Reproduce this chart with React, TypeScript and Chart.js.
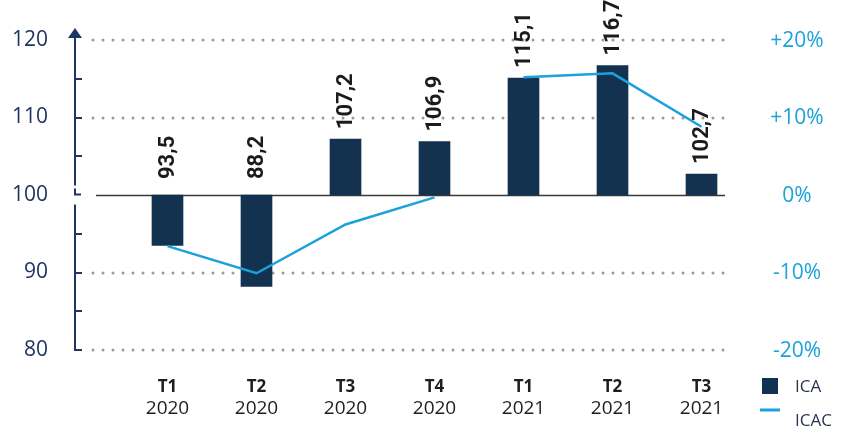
import React, { useEffect, useRef } from "react";
import { Chart, registerables } from "chart.js";

Chart.register(...registerables);

const quarters = ["T1", "T2", "T3", "T4", "T1", "T2", "T3"];
const years = ["2020", "2020", "2020", "2020", "2021", "2021", "2021"];
const icaValues = [93.5, 88.2, 107.2, 106.9, 115.1, 116.7, 102.7];
const icacValues = [-6.6, -10.1, -3.8, -0.3, 15.2, 15.7, 8.8];
const baseValue = 100;
const leftMin = 80;
const leftMax = 120;
const rightMin = -20;
const rightMax = 20;
const rightTickValues = [-20, -10, 0, 10, 20];
const seriesNames = ["ICA", "ICAC"];

const NAVY = "#12324f";
const AXIS = "#1f3563";
const BLUE = "#1ba1dc";
const FONT = "'Open Sans', sans-serif";

const fmt = (v: number) => v.toFixed(1).replace(".", ",");
const fmtPct = (v: number) => (v > 0 ? "+" : "") + v + "%";

const drawPlugin = {
  id: "custom",
  beforeDatasetsDraw(chart: any) {
    const ctx = chart.ctx;
    const y = chart.scales.y;
    const axX = 75;
    const gridL = 93;
    const gridR = 725;
    ctx.save();
    for (const t of y.ticks) {
      if (t.value === baseValue) continue;
      const py = Math.round(y.getPixelForValue(t.value));
      ctx.beginPath();
      ctx.setLineDash([0, 10]);
      ctx.lineCap = "round";
      ctx.lineWidth = 3;
      ctx.strokeStyle = "#9a9a9a";
      ctx.moveTo(gridL, py);
      ctx.lineTo(gridR, py);
      ctx.stroke();
    }
    ctx.setLineDash([]);
    ctx.lineCap = "butt";
    const by = Math.round(y.getPixelForValue(baseValue)) + 0.5;
    ctx.beginPath();
    ctx.strokeStyle = "#3a3a3a";
    ctx.lineWidth = 1.5;
    ctx.moveTo(96, by);
    ctx.lineTo(gridR, by);
    ctx.stroke();
    const top = y.getPixelForValue(leftMax);
    const bot = y.getPixelForValue(leftMin);
    ctx.strokeStyle = AXIS;
    ctx.lineWidth = 2;
    ctx.beginPath();
    ctx.moveTo(axX, top - 2);
    ctx.lineTo(axX, by - 10);
    ctx.moveTo(axX, by - 7);
    ctx.lineTo(axX, by - 1);
    ctx.lineTo(axX + 6, by - 1);
    ctx.moveTo(axX, by + 9);
    ctx.lineTo(axX, bot);
    ctx.lineTo(axX + 7, bot);
    ctx.stroke();
    for (let v = leftMin + 5; v < leftMax; v += 5) {
      if (v === baseValue) continue;
      const py = Math.round(y.getPixelForValue(v));
      ctx.beginPath();
      ctx.moveTo(axX, py);
      ctx.lineTo(axX + 7, py);
      ctx.stroke();
    }
    ctx.fillStyle = AXIS;
    ctx.beginPath();
    ctx.moveTo(axX, top - 12);
    ctx.lineTo(axX - 7, top - 2);
    ctx.lineTo(axX + 7, top - 2);
    ctx.closePath();
    ctx.fill();
    ctx.font = `21px ${FONT}`;
    ctx.textAlign = "right";
    ctx.textBaseline = "middle";
    ctx.fillStyle = AXIS;
    for (const t of y.ticks) {
      ctx.fillText(String(t.value), 48, y.getPixelForValue(t.value));
    }
    const y1 = chart.scales.y1;
    ctx.textAlign = "center";
    ctx.fillStyle = BLUE;
    for (const v of rightTickValues) {
      ctx.fillText(fmtPct(v), 797, y1.getPixelForValue(v) + 1);
    }
    ctx.restore();
  },
  afterDatasetsDraw(chart: any) {
    const ctx = chart.ctx;
    const y = chart.scales.y;
    const x = chart.scales.x;
    ctx.save();
    ctx.font = `bold 22px Roboto, sans-serif`;
    ctx.fillStyle = "#1b1b1b";
    ctx.textAlign = "left";
    ctx.textBaseline = "middle";
    const baseY = y.getPixelForValue(baseValue);
    icaValues.forEach((v, i) => {
      const px = x.getPixelForValue(i);
      const topY = Math.min(baseY, y.getPixelForValue(v));
      const gap = v >= baseValue ? 10 : 16;
      ctx.save();
      ctx.translate(px + 1, topY - gap);
      ctx.rotate(-Math.PI / 2);
      ctx.fillText(fmt(v), 0, 0);
      ctx.restore();
    });
    ctx.textAlign = "center";
    ctx.fillStyle = "#1e1e1e";
    quarters.forEach((q, i) => {
      const px = x.getPixelForValue(i);
      ctx.font = `bold 17px ${FONT}`;
      ctx.fillText(q, px, 387);
      ctx.font = `19px ${FONT}`;
      ctx.fillText(years[i], px, 409);
    });
    ctx.fillStyle = NAVY;
    ctx.fillRect(762, 378, 16, 16);
    ctx.strokeStyle = BLUE;
    ctx.lineWidth = 3;
    ctx.beginPath();
    ctx.moveTo(760, 410);
    ctx.lineTo(780, 410);
    ctx.stroke();
    ctx.font = `17px ${FONT}`;
    ctx.fillStyle = "#2a3550";
    ctx.textAlign = "left";
    ctx.fillText(seriesNames[0], 795, 387);
    ctx.fillText(seriesNames[1], 795, 421);
    ctx.restore();
  },
};

export default function App() {
  const ref = useRef<HTMLCanvasElement>(null);
  useEffect(() => {
    document.body.style.margin = "0";
    const chart = new Chart(ref.current!, {
      type: "bar",
      data: {
        labels: quarters.map((q, i) => q + " " + years[i]),
        datasets: [
          {
            type: "line",
            label: seriesNames[1],
            data: icacValues,
            yAxisID: "y1",
            borderColor: BLUE,
            borderWidth: 2.5,
            pointRadius: 0,
            tension: 0,
            order: 0,
            segment: {
              borderColor: (c: any) =>
                years[c.p0DataIndex] !== years[c.p1DataIndex] ? "rgba(0,0,0,0)" : BLUE,
            },
          } as any,
          {
            type: "bar",
            label: seriesNames[0],
            data: icaValues.map((v) => [baseValue, v]),
            yAxisID: "y",
            backgroundColor: NAVY,
            barThickness: 31,
            borderSkipped: false,
            order: 1,
          },
        ],
      },
      options: {
        responsive: false,
        animation: false,
        layout: { padding: { left: 123, right: 99, top: 40, bottom: 78 } },
        plugins: { legend: { display: false }, tooltip: { enabled: false } },
        scales: {
          x: { display: false, offset: true },
          y: {
            display: false,
            min: leftMin,
            max: leftMax,
            ticks: { stepSize: 10 },
          },
          y1: {
            display: false,
            position: "right",
            min: rightMin,
            max: rightMax,
          },
        },
      },
      plugins: [drawPlugin],
    });
    return () => chart.destroy();
  }, []);
  return <canvas ref={ref} width={845} height={428} style={{ display: "block" }} />;
}
